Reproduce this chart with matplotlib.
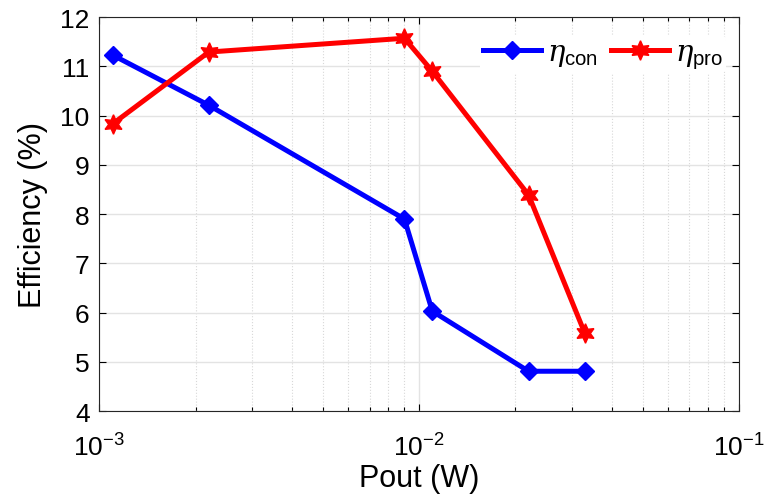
import matplotlib
matplotlib.use("Agg")
import matplotlib.pyplot as plt
from matplotlib.ticker import LogLocator, NullFormatter

plt.rcParams['font.family'] = ['Liberation Sans', 'DejaVu Sans']
plt.rcParams['mathtext.fontset'] = 'custom'
plt.rcParams['mathtext.rm'] = 'Liberation Sans'
plt.rcParams['mathtext.it'] = 'DejaVu Serif:italic'

pout = [0.0011, 0.0022, 0.009, 0.011, 0.022, 0.033]
eta_con = [11.23, 10.21, 7.9, 6.03, 4.81, 4.81]
eta_pro = [9.83, 11.29, 11.57, 10.9, 8.39, 5.58]

x_ticks = [1e-3, 1e-2, 1e-1]
x_tick_labels = [r'$\mathregular{10^{-3}}$', r'$\mathregular{10^{-2}}$', r'$\mathregular{10^{-1}}$']
y_ticks = list(range(4, 13))

fig = plt.figure(figsize=(7.64, 5.02), dpi=100)
ax = fig.add_axes([0.13, 0.179, 0.837, 0.785])

ax.plot(pout, eta_con, color='blue', linewidth=3.6, marker='D', markersize=9,
        label=r'$\eta_{\rm con}$', zorder=3)
ax.plot(pout, eta_pro, color='red', linewidth=3.6, marker=(6, 1, 0), markersize=14,
        label=r'$\eta_{\rm pro}$', zorder=3)

ax.set_xscale('log')
ax.set_xlim(1e-3, 1e-1)
ax.set_ylim(4, 12)
ax.set_xticks(x_ticks, x_tick_labels)
ax.set_yticks(y_ticks)
ax.xaxis.set_minor_locator(LogLocator(base=10, subs=range(2, 10)))
ax.xaxis.set_minor_formatter(NullFormatter())

ax.grid(which='major', color='#e3e3e3', linewidth=1, linestyle='-')
ax.grid(which='minor', axis='x', color='#d8d8d8', linewidth=0.8, linestyle=':')
ax.set_axisbelow(True)

ax.tick_params(which='both', direction='in', top=True, right=True, labelsize=19, width=0.8)
ax.tick_params(which='major', length=5)
ax.tick_params(which='minor', length=3)
ax.tick_params(axis='x', pad=16)
ax.tick_params(axis='y', pad=7)
for s in ax.spines.values():
    s.set_color('#262626')
    s.set_linewidth(0.8)

ax.set_xlabel('Pout (W)', fontsize=22, labelpad=2)
ax.set_ylabel('Efficiency (%)', fontsize=22, labelpad=9)

ax.legend(loc='upper right', bbox_to_anchor=(0.98, 0.955), ncol=2, frameon=True,
          edgecolor='none', facecolor='white', framealpha=1, fontsize=21,
          handlelength=2.0, columnspacing=0.45, handletextpad=0.2,
          borderpad=0.1, borderaxespad=0.0)

fig.savefig('out.png', dpi=100)
